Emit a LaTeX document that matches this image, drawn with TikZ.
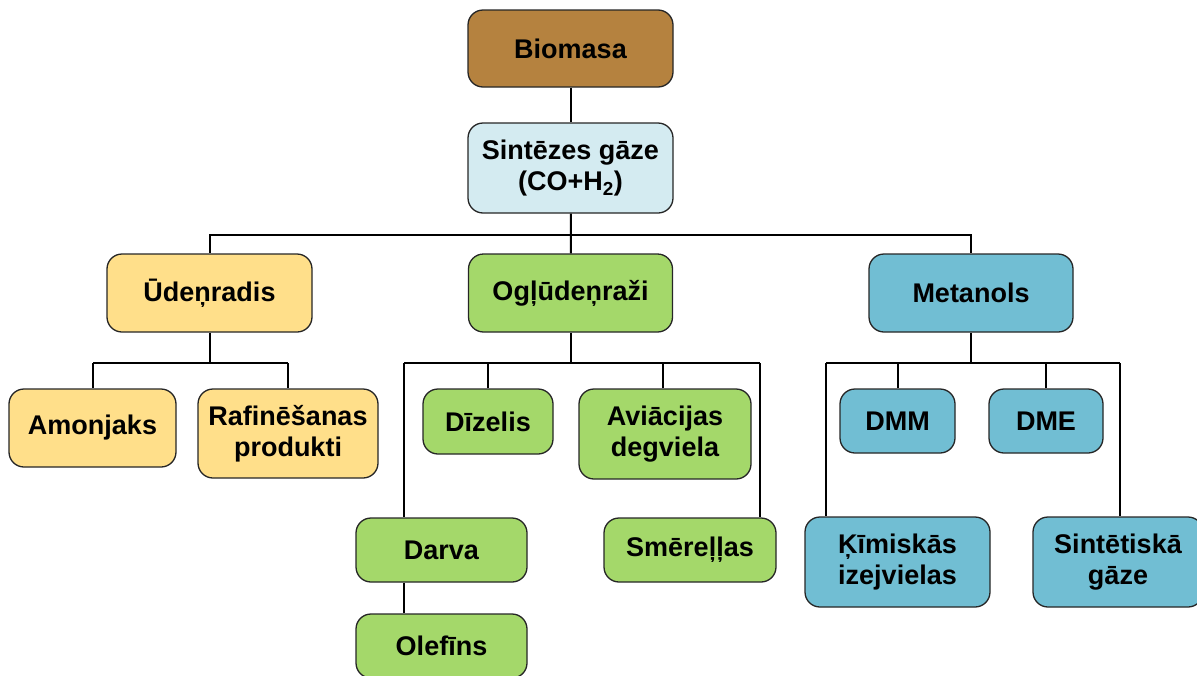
\documentclass[tikz,border=0pt]{standalone}
\usepackage{fontspec}
\setmainfont{Liberation Sans}
\definecolor{cBio}{HTML}{B5823F}
\definecolor{cSyn}{HTML}{D4EBF1}
\definecolor{cYel}{HTML}{FFDF8A}
\definecolor{cGrn}{HTML}{A4D86A}
\definecolor{cBlu}{HTML}{71BED3}
\tikzset{
  box/.style={draw=black!85, line width=1.3pt, rounded corners=15pt,
    align=center, inner sep=0pt,
    font=\fontsize{27}{31}\selectfont\bfseries},
  link/.style={draw=black, line width=2pt},
}
\begin{document}
\begin{tikzpicture}[x=1pt, y=-1pt]
\useasboundingbox (0,0) rectangle (1197,675);

% top of the tree
\node[box, fill=cBio, minimum width=205pt, minimum height=77pt] (bio) at (570.5,48.5) {Biomasa};
\node[box, fill=cSyn, minimum width=205pt, minimum height=90pt] (syn) at (570.5,168) {Sintēzes gāze\\(CO+H\textsubscript{2})};

% second level
\node[box, fill=cYel, minimum width=205pt, minimum height=78pt] (ude) at (209.5,293) {Ūdeņradis};
\node[box, fill=cGrn, minimum width=204pt, minimum height=78pt] (ogl) at (570.5,293) {Ogļūdeņraži};
\node[box, fill=cBlu, minimum width=204pt, minimum height=78pt] (met) at (971,293) {Metanols};

% products of hydrogen
\node[box, fill=cYel, minimum width=167pt, minimum height=78pt] (amo) at (92.5,428) {Amonjaks};
\node[box, fill=cYel, minimum width=180pt, minimum height=89pt] (raf) at (288,433.5) {Rafinēšanas\\produkti};

% products of hydrocarbons
\node[box, fill=cGrn, minimum width=130pt, minimum height=65pt] (dize) at (488,421.5) {Dīzelis};
\node[box, fill=cGrn, minimum width=172pt, minimum height=90pt] (avi) at (665,434) {Aviācijas\\degviela};
\node[box, fill=cGrn, minimum width=171pt, minimum height=64pt] (darva) at (441.5,550) {Darva};
\node[box, fill=cGrn, minimum width=171pt, minimum height=64pt] (olef) at (441.5,646) {Olefīns};
\node[box, fill=cGrn, minimum width=172pt, minimum height=64pt] (smer) at (690,550) {Smēreļļas};

% products of methanol
\node[box, fill=cBlu, minimum width=115pt, minimum height=64pt] (dmm) at (897.5,421) {DMM};
\node[box, fill=cBlu, minimum width=114pt, minimum height=64pt] (dme) at (1046,421) {DME};
\node[box, fill=cBlu, minimum width=185pt, minimum height=90pt] (kim) at (897.5,562) {Ķīmiskās\\izejvielas};
\node[box, fill=cBlu, minimum width=170pt, minimum height=90pt] (sint) at (1118,562) {Sintētiskā\\gāze};

% junction points of the branch bars
\coordinate (top) at (571,235);
\coordinate (u1) at (93,363);
\coordinate (u2) at (288,363);
\coordinate (o1) at (404,363);
\coordinate (o4) at (760,363);
\coordinate (m1) at (826,363);
\coordinate (m4) at (1120,363);

% connectors
\draw[link] (bio) -- (syn);
\draw[link] (syn) -- (top);
\draw[link] (top) -| (ude.north);
\draw[link] (top) -| (met.north);
\draw[link] (top) -- (ogl);

\draw[link] (ude) -- (ude.south |- u1);
\draw[link] (u1) -- (u2);
\draw[link] (u1) -- (u1 |- amo.north);
\draw[link] (u2) -- (u2 |- raf.north);

\draw[link] (ogl) -- (ogl.south |- o1);
\draw[link] (o1) -- (o4);
\draw[link] (o1) -- (o1 |- darva.north);
\draw[link] (dize.north) -- (dize.north |- o1);
\draw[link] ([xshift=-2pt]avi.north) -- ([xshift=-2pt]avi.north |- o1);
\draw[link] (o4) -- (o4 |- smer.north);
\draw[link] (o1 |- darva.south) -- (o1 |- olef.north);

\draw[link] (met) -- (met.south |- m1);
\draw[link] (m1) -- (m4);
\draw[link] (m1) -- (m1 |- kim.north);
\draw[link] (dmm.north) -- (dmm.north |- m1);
\draw[link] (dme.north) -- (dme.north |- m1);
\draw[link] (m4) -- (m4 |- sint.north);
\end{tikzpicture}
\end{document}
